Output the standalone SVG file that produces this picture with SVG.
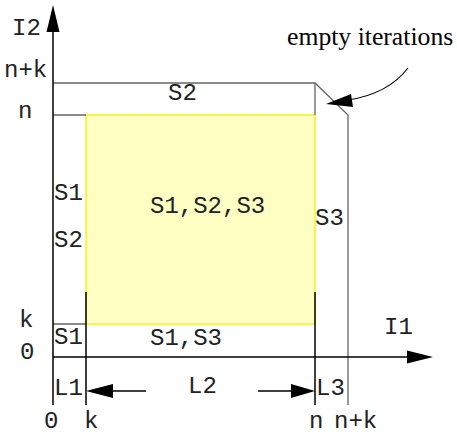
<svg xmlns="http://www.w3.org/2000/svg" width="457" height="435" viewBox="0 0 457 435">
<style>
.m{font-family:"Liberation Mono","Courier New",monospace;font-size:24px;fill:#222}
.t{font-family:"Liberation Serif","Times New Roman",serif;font-size:25.7px;fill:#000}
.g{stroke:#666;stroke-width:1.3;fill:none}
.k{stroke:#000;stroke-width:1.5;fill:none}
.ah{fill:#000;stroke:none}
</style>
<rect width="457" height="435" fill="#fff"/>
<g id="region-s123">
<rect x="86" y="115" width="229" height="209" fill="#ffffc4" stroke="#f2f200" stroke-width="1.3"/>
</g>
<g id="connectors">
<path class="g" d="M53,83 H315 L348,115 V405 M315,83 V115 M53,115 H86 M53,324 H86"/>
<path class="k" d="M86,292 V405 M315,292 V405"/>
<path class="k" d="M53,405 V30 M53,357 H410"/>
<polygon class="ah" points="53,5 46.5,32 59.5,32"/>
<polygon class="ah" points="433,357 407,350.5 407,363.5"/>
<path class="k" d="M146,391 H112 M258,391 H292"/>
<polygon class="ah" points="86,391 113,384 113,398"/>
<polygon class="ah" points="315,391 291,384 291,398"/>
<path stroke="#000" stroke-width="1.2" fill="none" d="M408,68 Q388,94 348,100"/>
<polygon class="ah" points="326,104 351,94 353,107"/>
</g>
<g id="labels">
<text class="m" x="12" y="35">I2</text>
<text class="m" x="4" y="77">n+k</text>
<text class="m" x="18" y="118">n</text>
<text class="m" x="19" y="327">k</text>
<text class="m" x="20" y="359">0</text>
<text class="m" x="168" y="100">S2</text>
<text class="m" x="54" y="200">S1</text>
<text class="m" x="54" y="247">S2</text>
<text class="m" x="150" y="213">S1,S2,S3</text>
<text class="m" x="315" y="225">S3</text>
<text class="m" x="54" y="344">S1</text>
<text class="m" x="150" y="345">S1,S3</text>
<text class="m" x="384" y="334">I1</text>
<text class="m" x="54" y="395">L1</text>
<text class="m" x="188" y="393">L2</text>
<text class="m" x="316" y="395">L3</text>
<text class="m" x="44" y="428">0</text>
<text class="m" x="84" y="428">k</text>
<text class="m" x="309" y="428">n</text>
<text class="m" x="334" y="428">n+k</text>
<text class="t" x="287" y="45">empty iterations</text>
</g>
</svg>
